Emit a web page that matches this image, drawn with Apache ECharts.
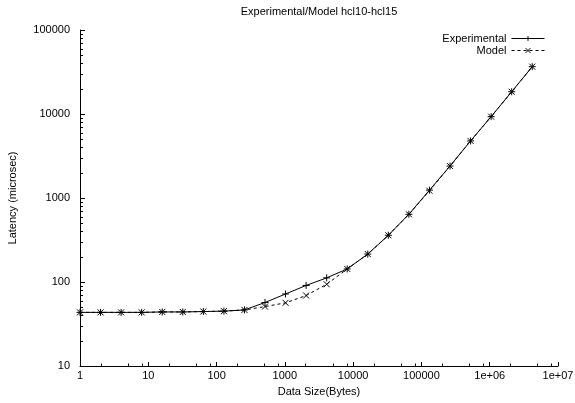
<!DOCTYPE html>
<html>
<head>
<meta charset="utf-8">
<script src="https://cdn.jsdelivr.net/npm/echarts@6/dist/echarts.min.js"></script>
<style>
html,body{margin:0;padding:0;background:#fff;}
#c{width:575px;height:403px;}
</style>
</head>
<body>
<div id="c"></div>
<script>
var sizes = [1,2,4,8,16,32,64,128,256,512,1024,2048,4096,8192,16384,32768,65536,131072,262144,524288,1048576,2097152,4194304];
var experimental = [43.5,43.5,43.5,43.5,44,44,44.5,45,46.5,57,72,91,112,143,215,360,640,1240,2400,4780,9300,18400,36600];
var model = [43.5,43.5,43.5,43.5,44,44,44.5,45,46.5,51,56.5,69,94,143,215,360,640,1220,2400,4780,9300,18400,36600];
var xTickLabels = ['1','10','100','1000','10000','100000','1e+06','1e+07'];
var xMinorFactors = [2,5,8];
var yMinorFactors = [2,3,4,5,6,7,8,9];

var FONT = '"Liberation Sans", Arial, Helvetica, sans-serif';
function pairs(xs, ys){ return xs.map(function(x,i){ return [x, ys[i]]; }); }
function fmtX(v){
  var e = Math.round(Math.log10(v));
  return xTickLabels[e] !== undefined ? xTickLabels[e] : String(v);
}

var chart = echarts.init(document.getElementById('c'), null, {renderer:'canvas'});
var plusSym = 'path://M0,5L10,5M5,0L5,10';
var xSym = 'path://M0,0L10,10M10,0L0,10';

function legendCfg(name, top){
  return {data: [name], right: 30, top: top, orient: 'vertical', align: 'right', padding: 0,
    itemWidth: 33, itemHeight: 6, selectedMode: false,
    lineStyle: {width: 1},
    itemStyle: {borderWidth: 1, borderColor: '#000'},
    textStyle: {fontFamily: FONT, fontSize: 11, color: '#000'}};
}

var option = {
  animation: false,
  backgroundColor: '#fff',
  title: {
    text: 'Experimental/Model hcl10-hcl15',
    left: 319, top: 6, textAlign: 'center', padding: 0,
    textStyle: {fontFamily: FONT, fontSize: 11, fontWeight: 'normal', color: '#000'}
  },
  legend: [legendCfg('Experimental', 33), legendCfg('Model', 45)],
  grid: {left: 80, right: 17, top: 30, bottom: 37, containLabel: false, outerBoundsMode: 'none'},
  xAxis: {
    type: 'log', logBase: 10, min: 1, max: 10000000,
    name: 'Data Size(Bytes)', nameLocation: 'middle', nameGap: 20,
    nameTextStyle: {fontFamily: FONT, fontSize: 11, color: '#000'},
    axisLine: {show: true, lineStyle: {color: '#000', width: 1}},
    axisTick: {show: true, inside: true, length: 4, lineStyle: {color: '#000', width: 1}},
    minorTick: {show: false},
    splitLine: {show: false},
    axisLabel: {margin: 4, fontFamily: FONT, fontSize: 11, color: '#000', formatter: fmtX, showMinLabel: true, showMaxLabel: true}
  },
  yAxis: {
    type: 'log', logBase: 10, min: 10, max: 100000,
    name: 'Latency (microsec)', nameLocation: 'middle', nameGap: 62, nameRotate: 90,
    nameTextStyle: {fontFamily: FONT, fontSize: 11, color: '#000'},
    axisLine: {show: true, lineStyle: {color: '#000', width: 1}},
    axisTick: {show: true, inside: true, length: 5, lineStyle: {color: '#000', width: 1}},
    minorTick: {show: false},
    splitLine: {show: false},
    axisLabel: {margin: 10, fontFamily: FONT, fontSize: 11, color: '#000', formatter: function(v){ return String(Math.round(v)); }}
  },
  series: [
    {
      name: 'Experimental', type: 'line', data: pairs(sizes, experimental),
      symbol: plusSym, symbolSize: 7, showAllSymbol: true,
      lineStyle: {color: '#000', width: 1, type: 'solid'},
      itemStyle: {color: '#000', borderColor: '#000', borderWidth: 1},
      emphasis: {disabled: true}, z: 3
    },
    {
      name: 'Model', type: 'line', data: pairs(sizes, model),
      symbol: xSym, symbolSize: 6, showAllSymbol: true,
      lineStyle: {color: '#000', width: 1, type: [3, 3]},
      itemStyle: {color: '#000', borderColor: '#000', borderWidth: 1},
      emphasis: {disabled: true}, z: 2
    }
  ]
};
chart.setOption(option);

// minor ticks (gnuplot style) positioned through the library's scales
var g = [];
for (var d = 1; d < 10000000; d *= 10) {
  xMinorFactors.forEach(function(f){
    var p = chart.convertToPixel({gridIndex: 0}, [d * f, 10]);
    g.push({type: 'line', shape: {x1: Math.round(p[0]) + 0.5, y1: p[1], x2: Math.round(p[0]) + 0.5, y2: p[1] - 2.5}, style: {stroke: '#000', lineWidth: 1}, silent: true});
  });
}
for (var e = 10; e < 100000; e *= 10) {
  yMinorFactors.forEach(function(f){
    var p = chart.convertToPixel({gridIndex: 0}, [1, e * f]);
    g.push({type: 'line', shape: {x1: p[0], y1: Math.round(p[1]) + 0.5, x2: p[0] + 3, y2: Math.round(p[1]) + 0.5}, style: {stroke: '#000', lineWidth: 1}, silent: true});
  });
}
chart.setOption({graphic: g});
</script>
</body>
</html>
